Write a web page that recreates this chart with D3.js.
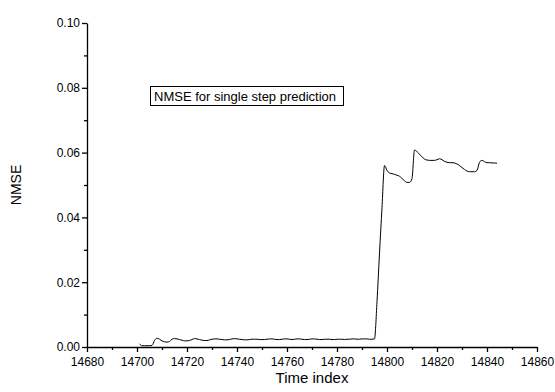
<!DOCTYPE html>
<html><head><meta charset="utf-8">
<script src="https://cdn.jsdelivr.net/npm/d3@7"></script>
<style>body{margin:0;background:#fff}svg{display:block}text{font-family:"Liberation Sans",Arial,sans-serif;fill:#000}</style>
</head><body><svg id="c" width="555" height="392"></svg>
<script>
const timeIndex = d3.range(14701, 14845);
const nmse = [
0.0010,0.0004,0.0004,0.0004,0.0004,0.0005,0.0020,0.0027,0.0024,0.0019,
0.0016,0.0015,0.0017,0.0024,0.0026,0.0025,0.0023,0.0021,0.0019,0.0019,
0.0020,0.0023,0.0026,0.0025,0.0023,0.0021,0.0020,0.0020,0.0022,0.0024,
0.0025,0.0025,0.0024,0.0023,0.0022,0.0022,0.0023,0.0025,0.0026,0.0025,
0.0024,0.0023,0.0022,0.0022,0.0023,0.0024,0.0024,0.0024,0.0023,0.0023,
0.0023,0.0024,0.0025,0.0025,0.0024,0.0023,0.0023,0.0024,0.0025,0.0025,
0.0024,0.0023,0.0024,0.0025,0.0025,0.0024,0.0023,0.0023,0.0024,0.0025,
0.0025,0.0024,0.0023,0.0023,0.0024,0.0024,0.0024,0.0023,0.0023,0.0024,
0.0024,0.0024,0.0023,0.0024,0.0024,0.0025,0.0025,0.0024,0.0024,0.0025,
0.0025,0.0025,0.0024,0.0024,0.0025,0.0140,0.0290,0.0430,0.0560,0.0545,
0.0537,0.0535,0.0533,0.0530,0.0527,0.0520,0.0513,0.0508,0.0508,0.0520,
0.0608,0.0603,0.0595,0.0587,0.0580,0.0577,0.0576,0.0576,0.0576,0.0578,
0.0581,0.0578,0.0573,0.0570,0.0569,0.0569,0.0568,0.0565,0.0560,0.0554,
0.0548,0.0543,0.0541,0.0541,0.0541,0.0545,0.0570,0.0576,0.0572,0.0569,
0.0569,0.0568,0.0568,0.0567];
const xTicks = [14680,14700,14720,14740,14760,14780,14800,14820,14840,14860];
const yTicks = [0.00,0.02,0.04,0.06,0.08,0.10];
const xMinor = d3.range(14690, 14860, 20);
const yMinor = [0.01,0.03,0.05,0.07,0.09];
const annotation = "NMSE for single step prediction";

const svg = d3.select("#c");
const x = d3.scaleLinear().domain([14680,14860]).range([87,537]);
const y = d3.scaleLinear().domain([0,0.10]).range([347,23]);

const xAxis = svg.append("g").attr("transform","translate(0,347)")
  .call(d3.axisBottom(x).tickValues(xTicks).tickFormat(d3.format("d")).tickSize(5).tickSizeOuter(0));
svg.append("g").attr("transform","translate(0,347)")
  .call(d3.axisBottom(x).tickValues(xMinor).tickFormat("").tickSize(3).tickSizeOuter(0))
  .select(".domain").remove();
const yAxis = svg.append("g").attr("transform","translate(87,0)")
  .call(d3.axisLeft(y).tickValues(yTicks).tickFormat(d3.format(".2f")).tickSize(5).tickSizeOuter(0));
svg.append("g").attr("transform","translate(87,0)")
  .call(d3.axisLeft(y).tickValues(yMinor).tickFormat("").tickSize(3).tickSizeOuter(0))
  .select(".domain").remove();
svg.selectAll(".domain,.tick line").attr("stroke","#000").attr("stroke-width",1.3);
svg.selectAll(".tick text").style("font-size","12px").style("font-family","'Liberation Sans',Arial,sans-serif");
xAxis.selectAll(".tick text").attr("dy","0.9em");
yAxis.selectAll(".tick text").attr("x",-7);

const data = timeIndex.map((t,i)=>({t, v:nmse[i]}));
svg.append("path").datum(data)
  .attr("fill","none").attr("stroke","#000").attr("stroke-width",1)
  .attr("d", d3.line().x(d=>x(d.t)).y(d=>y(d.v)).curve(d3.curveMonotoneX));

svg.append("text").attr("x",312).attr("y",383).attr("text-anchor","middle")
  .style("font-size","15px").text("Time index");
svg.append("text").attr("transform","translate(21,185) rotate(-90)").attr("text-anchor","middle")
  .style("font-size","14px").text("NMSE");

const ann = svg.append("g");
ann.append("rect").attr("x",150.5).attr("y",86.5).attr("width",193).attr("height",19)
  .attr("fill","#fff").attr("stroke","#000").attr("stroke-width",1);
ann.append("text").attr("x",154).attr("y",101).style("font-size","13px").text(annotation);
</script></body></html>
